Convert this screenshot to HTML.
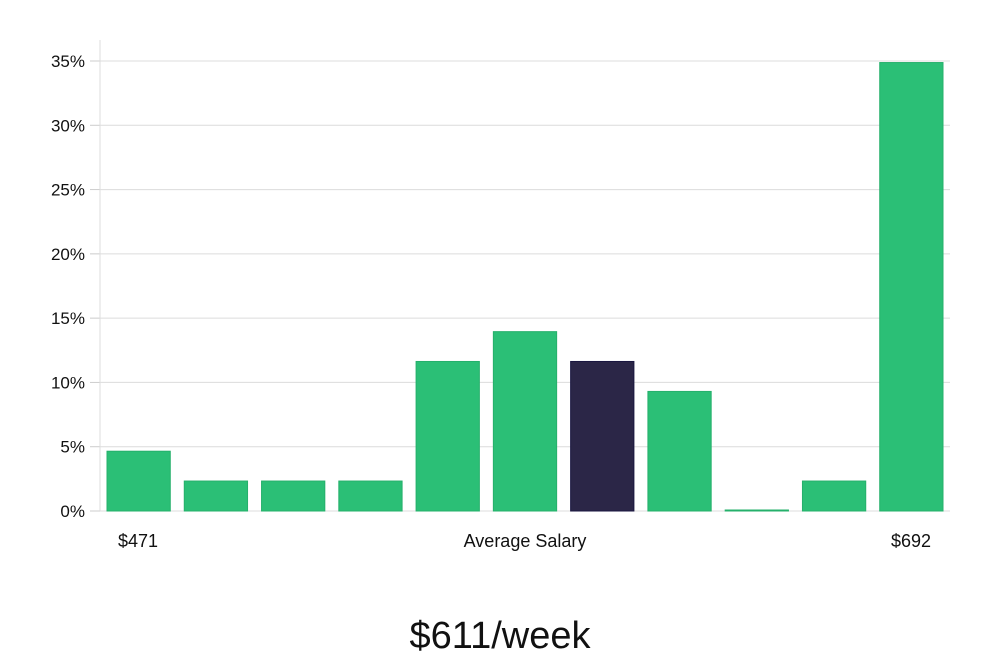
<!DOCTYPE html>
<html><head><meta charset="utf-8"><style>
body{margin:0;background:#fff;font-family:"Liberation Sans","DejaVu Sans",sans-serif}
</style></head><body>
<svg id="chart" width="1000" height="660" xmlns="http://www.w3.org/2000/svg"></svg>
<script>
const categories=["b1","b2","b3","b4","b5","b6","b7","b8","b9","b10","b11"];
const values=[4.65,2.33,2.33,2.33,11.63,13.95,11.63,9.30,0,2.33,34.88];
const highlight=[false,false,false,false,false,false,true,false,false,false,false];
const yTicks=[0,5,10,15,20,25,30,35];
const yTickLabels=["0%","5%","10%","15%","20%","25%","30%","35%"];
const xLabels=["$471","Average Salary","$692"];
const title="$611/week";

const svg=document.getElementById('chart');
const NS="http://www.w3.org/2000/svg";
const x0=100,x1=950,y0=511,yTop=61,yMaxV=35;
const y=v=>y0-(v/yMaxV)*(y0-yTop);
const band=(x1-x0)/categories.length;
const bx=i=>x0+i*band+7;
function mk(t,a,txt){const e=document.createElementNS(NS,t);for(const k in a)e.setAttribute(k,a[k]);if(txt!==undefined)e.textContent=txt;svg.appendChild(e);return e;}
yTicks.forEach((t,i)=>{
 const g=mk('line',{x1:x0,x2:x1,y1:y(t),y2:y(t),stroke:'#dcdcdc','stroke-width':1});
 
 
 const tk=mk('line',{x1:x0-10,x2:x0,y1:y(t),y2:y(t),stroke:'#ccc','stroke-width':1});
 
 
 const l=mk('text',{x:85,y:y(t)+6,'text-anchor':'end','font-size':17,fill:'#111'},yTickLabels[i]);
 
 
});
const ax=mk('line',{x1:x0,x2:x0,y1:40,y2:y0,stroke:'#ddd','stroke-width':1});


values.forEach((v,i)=>{
 const h=Math.max(1,y0-y(v));
 const r=mk('rect',{x:bx(i),y:y0-h,width:band-14,height:h,fill:highlight[i]?'#2b2647':'#2bbf76',stroke:highlight[i]?'#1a1640':'#25b06b','stroke-width':1});
 
 
});
const xs=[138,525,911];
xLabels.forEach((t,i)=>{
 const l=mk('text',{x:xs[i],y:547,'text-anchor':'middle','font-size':18,fill:'#111'},t);
 
 
});
const tt=mk('text',{x:500,y:648,'text-anchor':'middle','font-size':38,fill:'#111','font-weight':300},title);


</script>
</body></html>
